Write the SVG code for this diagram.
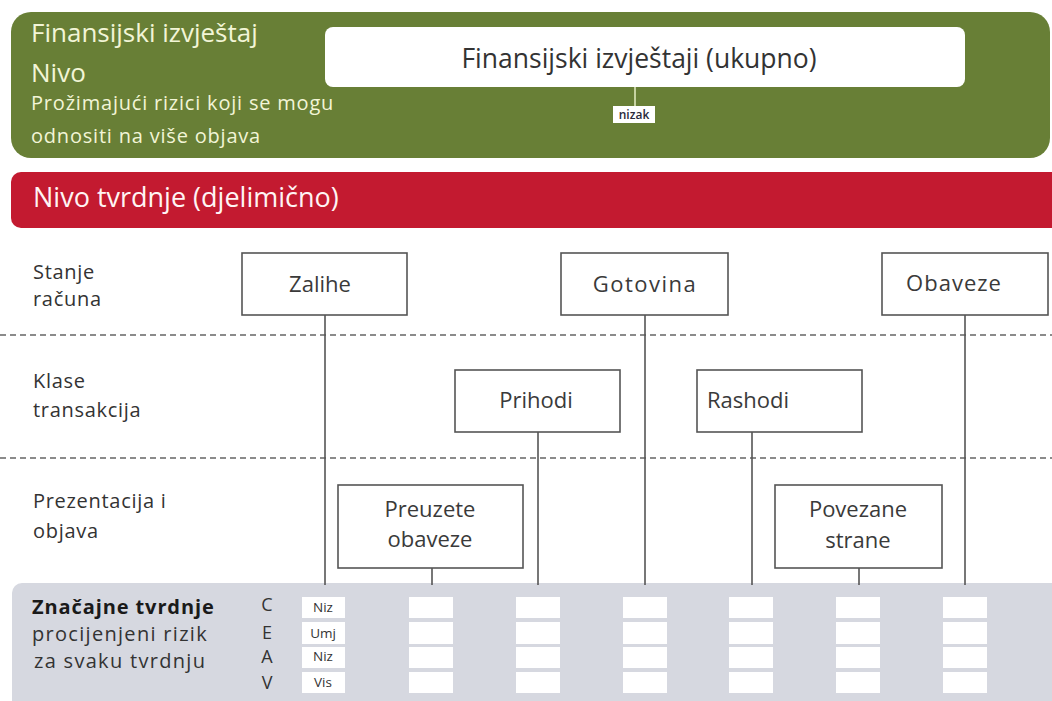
<svg xmlns="http://www.w3.org/2000/svg" width="1052" height="701" viewBox="0 0 1052 701">
<style>
.lt{font-family:"Open Sans","Liberation Sans",sans-serif;fill:#f2f5d6;font-weight:500}
.wt{font-family:"Open Sans","Liberation Sans",sans-serif;fill:#fff4f4;font-weight:500}
.dk{font-family:"Open Sans","Liberation Sans",sans-serif;fill:#333333}
.bx{font-family:"Open Sans","Liberation Sans",sans-serif;fill:#3a3a3a;font-size:22px;text-anchor:middle}
.box{fill:#ffffff;stroke:#555555;stroke-width:1.6}
.ln{stroke:#555555;stroke-width:1.6;fill:none}
.dash{stroke:#666666;stroke-width:1.5;stroke-dasharray:6 4;fill:none}
.cell{fill:#ffffff}
.ct{font-family:"Open Sans","Liberation Sans",sans-serif;fill:#333333;font-size:13.5px;text-anchor:middle}
.rl{font-family:"Open Sans","Liberation Sans",sans-serif;fill:#333333;font-size:20px;letter-spacing:0.7px}
.bl{font-family:"Open Sans","Liberation Sans",sans-serif;fill:#333333;font-size:20px;letter-spacing:1.3px}
</style>
<rect width="1052" height="701" fill="#ffffff"/>
<g id="header">
<rect x="11" y="12" width="1039" height="146" rx="20" fill="#687f36"/>
<text class="lt" x="31" y="42" font-size="26">Finansijski izvještaj</text>
<text class="lt" x="31" y="82" font-size="26">Nivo</text>
<text class="lt" x="31" y="110" font-size="20" font-weight="600" letter-spacing="0.8">Prožimajući rizici koji se mogu</text>
<text class="lt" x="31" y="143" font-size="20" font-weight="600" letter-spacing="0.8">odnositi na više objava</text>
</g>
<g id="fs-total">
<rect x="325" y="27" width="640" height="60" rx="8" fill="#ffffff"/>
<text class="dk" x="639" y="68" font-size="26.5" text-anchor="middle" fill="#2e2e2e">Finansijski izvještaji (ukupno)</text>
</g>
<g id="nizak-label">
<line x1="635" y1="87" x2="635" y2="107" stroke="#e6eec6" stroke-width="1.5"/>
<rect x="613" y="106" width="42" height="17" fill="#ffffff"/>
<text x="634" y="119" font-size="12" font-weight="600" text-anchor="middle" font-family="Open Sans, Liberation Sans, sans-serif" fill="#2a2a3a">nizak</text>
</g>
<g id="assertion-band">
<rect x="11" y="172" width="1050" height="56" rx="10" fill="#c31a30"/>
<text class="wt" x="33" y="207" font-size="27">Nivo tvrdnje (djelimično)</text>
</g>
<g id="row-labels">
<text class="rl" x="33" y="279">Stanje</text>
<text class="rl" x="33" y="306">računa</text>
<text class="rl" x="33" y="388">Klase</text>
<text class="rl" x="33" y="417">transakcija</text>
<text class="rl" x="33" y="508">Prezentacija i</text>
<text class="rl" x="33" y="538">objava</text>
</g>
<g id="dividers">
<line class="dash" x1="0" y1="335" x2="1052" y2="335"/>
<line class="dash" x1="0" y1="458" x2="1052" y2="458"/>
</g>
<g id="bottom-panel">
<rect x="12" y="583" width="1050" height="130" rx="10" fill="#d6d8e0"/>
<text x="32" y="614" font-size="20" font-weight="bold" letter-spacing="0.9" font-family="Open Sans, Liberation Sans, sans-serif" fill="#1a1a1a">Značajne tvrdnje</text>
<text class="bl" x="32" y="641">procijenjeni rizik</text>
<text class="bl" x="34" y="668">za svaku tvrdnju</text>
<text class="dk" x="267" y="611" font-size="18" text-anchor="middle">C</text>
<text class="dk" x="267" y="639" font-size="18" text-anchor="middle">E</text>
<text class="dk" x="267" y="663" font-size="18" text-anchor="middle">A</text>
<text class="dk" x="267" y="689" font-size="18" text-anchor="middle">V</text>
</g>
<g id="connectors">
<line class="ln" x1="325" y1="315" x2="325" y2="585"/>
<line class="ln" x1="645" y1="315" x2="645" y2="585"/>
<line class="ln" x1="965" y1="315" x2="965" y2="585"/>
<line class="ln" x1="538" y1="432" x2="538" y2="585"/>
<line class="ln" x1="752" y1="432" x2="752" y2="585"/>
<line class="ln" x1="432" y1="568" x2="432" y2="585"/>
<line class="ln" x1="859" y1="568" x2="859" y2="585"/>
</g>
<g id="zalihe">
<rect class="box" x="242" y="253" width="165" height="62"/>
<text class="bx" x="320" y="292">Zalihe</text>
</g>
<g id="gotovina">
<rect class="box" x="561" y="253" width="167" height="62"/>
<text class="bx" x="645" y="292" letter-spacing="1.5">Gotovina</text>
</g>
<g id="obaveze">
<rect class="box" x="882" y="253" width="166" height="62"/>
<text class="bx" x="954" y="291" letter-spacing="1">Obaveze</text>
</g>
<g id="prihodi">
<rect class="box" x="455" y="370" width="165" height="62"/>
<text class="bx" x="536" y="408">Prihodi</text>
</g>
<g id="rashodi">
<rect class="box" x="697" y="370" width="165" height="62"/>
<text class="bx" x="748" y="408">Rashodi</text>
</g>
<g id="preuzete-obaveze">
<rect class="box" x="338" y="485" width="185" height="83"/>
<text class="bx" x="430" y="517">Preuzete</text>
<text class="bx" x="430" y="547">obaveze</text>
</g>
<g id="povezane-strane">
<rect class="box" x="775" y="485" width="167" height="83"/>
<text class="bx" x="858" y="517">Povezane</text>
<text class="bx" x="858" y="548">strane</text>
</g>
<g id="risk-cells">
<rect class="cell" x="302" y="597" width="43" height="21"/>
<rect class="cell" x="302" y="622" width="43" height="22"/>
<rect class="cell" x="302" y="647" width="43" height="21"/>
<rect class="cell" x="302" y="672" width="43" height="21"/>
<text class="ct" x="323" y="612">Niz</text>
<text class="ct" x="323" y="638">Umj</text>
<text class="ct" x="323" y="661">Niz</text>
<text class="ct" x="323" y="687">Vis</text>
<g>
<rect class="cell" x="409" y="597" width="44" height="21"/><rect class="cell" x="409" y="622" width="44" height="22"/><rect class="cell" x="409" y="647" width="44" height="21"/><rect class="cell" x="409" y="672" width="44" height="21"/>
<rect class="cell" x="516" y="597" width="44" height="21"/><rect class="cell" x="516" y="622" width="44" height="22"/><rect class="cell" x="516" y="647" width="44" height="21"/><rect class="cell" x="516" y="672" width="44" height="21"/>
<rect class="cell" x="623" y="597" width="44" height="21"/><rect class="cell" x="623" y="622" width="44" height="22"/><rect class="cell" x="623" y="647" width="44" height="21"/><rect class="cell" x="623" y="672" width="44" height="21"/>
<rect class="cell" x="729" y="597" width="44" height="21"/><rect class="cell" x="729" y="622" width="44" height="22"/><rect class="cell" x="729" y="647" width="44" height="21"/><rect class="cell" x="729" y="672" width="44" height="21"/>
<rect class="cell" x="836" y="597" width="44" height="21"/><rect class="cell" x="836" y="622" width="44" height="22"/><rect class="cell" x="836" y="647" width="44" height="21"/><rect class="cell" x="836" y="672" width="44" height="21"/>
<rect class="cell" x="943" y="597" width="44" height="21"/><rect class="cell" x="943" y="622" width="44" height="22"/><rect class="cell" x="943" y="647" width="44" height="21"/><rect class="cell" x="943" y="672" width="44" height="21"/>
</g>
</g>
</svg>
